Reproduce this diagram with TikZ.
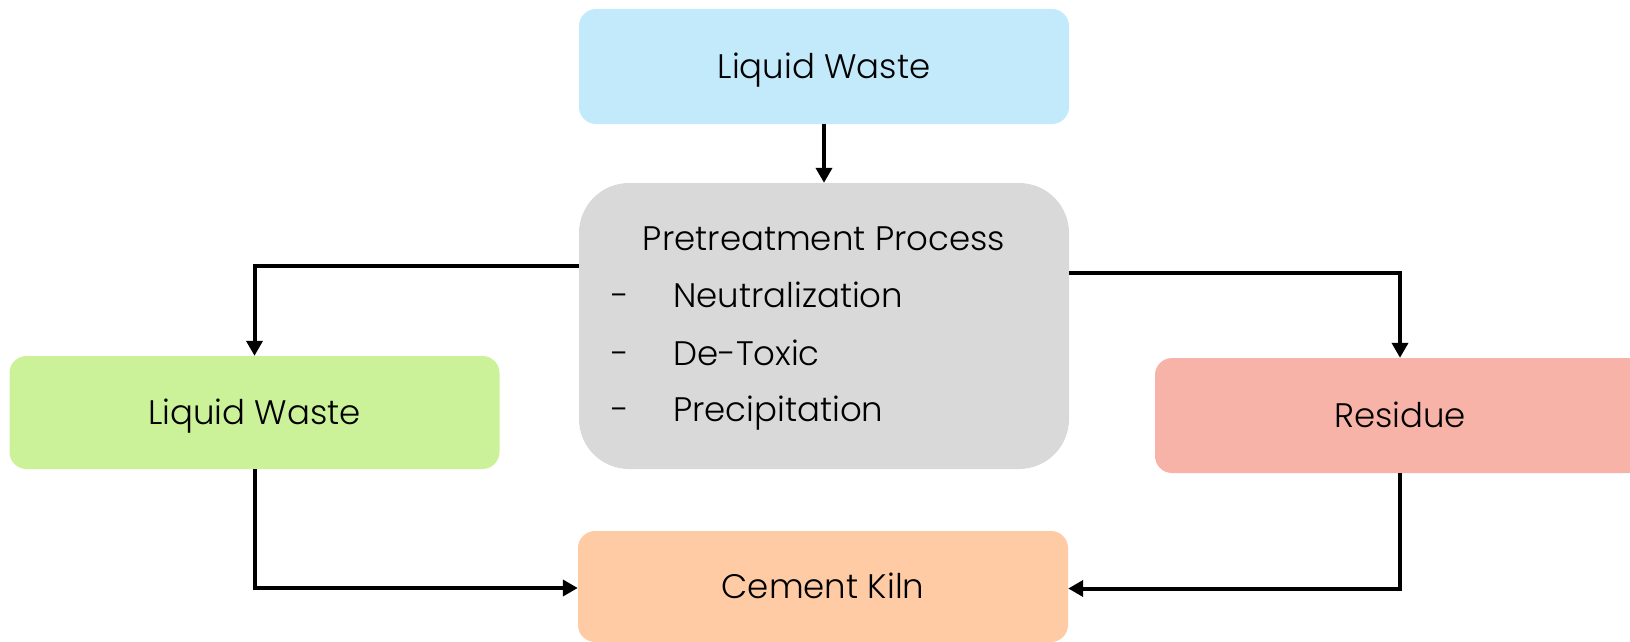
\documentclass[tikz,border=0pt]{standalone}
\usepackage{fontspec}
\setmainfont{Poppins Light}
\usetikzlibrary{arrows.meta}

\definecolor{wasteblue}{HTML}{C2EAFA}
\definecolor{procgray}{HTML}{D9D9D9}
\definecolor{wastegreen}{HTML}{CBF299}
\definecolor{residuered}{HTML}{F8B3A8}
\definecolor{kilnorange}{HTML}{FECBA4}

\tikzset{
  box/.style={rectangle, rounded corners=17pt, draw=none, inner sep=0pt,
    minimum width=490pt, minimum height=113pt,
    text height=24pt, text depth=0pt,
    font=\fontsize{34}{40}\selectfont},
  label/.style={inner sep=0pt, anchor=base, font=\fontsize{34}{40}\selectfont},
  conn/.style={line width=4pt, -{Triangle[length=15pt,width=16pt]}}
}

\begin{document}
\begin{tikzpicture}[x=1pt, y=-1pt]
  \clip (0,0) rectangle (1630,642);

  % boxes
  \node[box, fill=wasteblue, minimum height=115pt] (src) at (824,66.5) {Liquid Waste};
  \node[box, fill=procgray, rounded corners=50pt, minimum height=286pt] (proc) at (824,326) {};
  \node[box, fill=wastegreen] (liq) at (254.5,412.5) {Liquid Waste};
  \node[box, fill=residuered, minimum height=115pt] (res) at (1400,415.5) {Residue};
  \node[box, fill=kilnorange, minimum height=111pt] (kiln) at (823,586.5) {Cement Kiln};

  % pretreatment steps
  \node[label] (title) at (824,250) {Pretreatment Process};
  \node[label, anchor=base west] (s1) at (673,307) {Neutralization};
  \node[label, anchor=base west] (s2) at (673,365) {De-Toxic};
  \node[label, anchor=base west] (s3) at (673,421) {Precipitation};
  \node[label] (d1) at (620.5,307) {-};
  \node[label] (d2) at (620.5,365) {-};
  \node[label] (d3) at (620.5,421) {-};

  % flow
  \draw[conn] (src.south) -- (proc.north);
  \draw[conn] ([yshift=60pt]proc.west) -| (liq.north);
  \draw[conn] ([yshift=53pt]proc.east) -| (res.north);
  \draw[conn] (liq.south) |- ([yshift=-1.5pt]kiln.west);
  \draw[conn] (res.south) |- ([yshift=-2pt]kiln.east);
\end{tikzpicture}
\end{document}
